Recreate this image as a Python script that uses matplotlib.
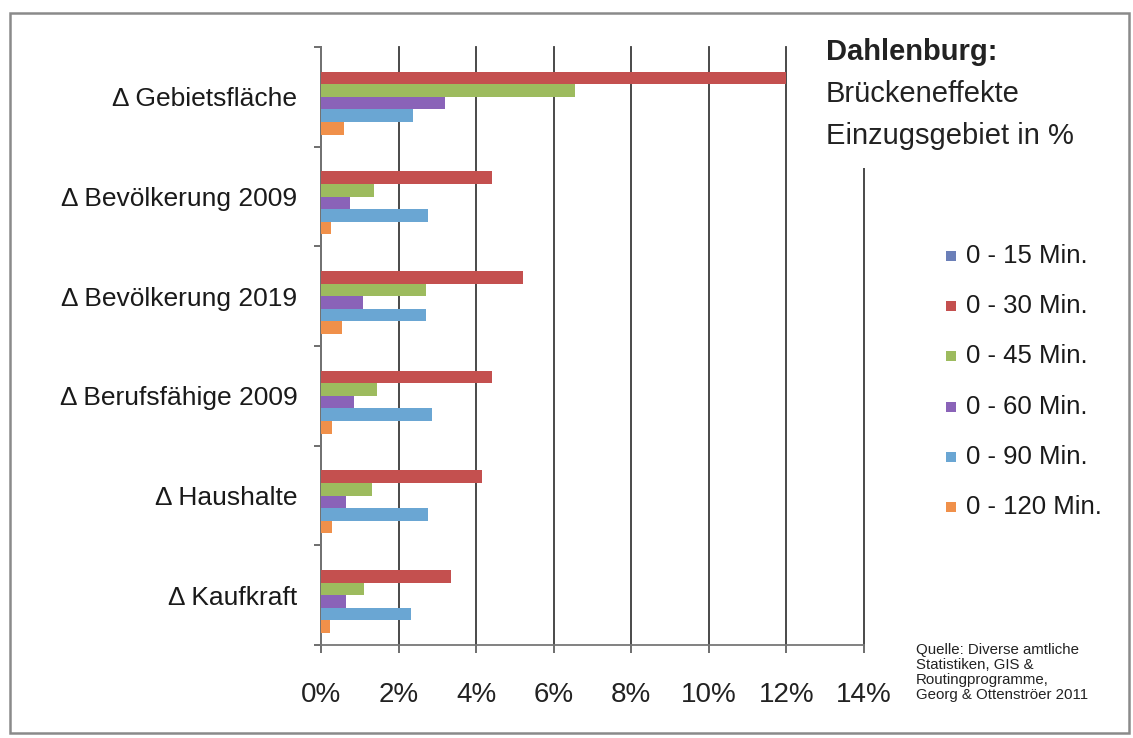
import matplotlib
matplotlib.use("Agg")
import matplotlib.pyplot as plt
from matplotlib.patches import Rectangle
from matplotlib.ticker import FuncFormatter
import numpy as np

plt.rcParams['font.family'] = ['Liberation Sans', 'DejaVu Sans']

categories = ["\u0394 Gebietsfläche", "\u0394 Bevölkerung 2009", "\u0394 Bevölkerung 2019",
              "\u0394 Berufsfähige 2009", "\u0394 Haushalte", "\u0394 Kaufkraft"]
series_names = ["0 - 15 Min.", "0 - 30 Min.", "0 - 45 Min.", "0 - 60 Min.", "0 - 90 Min.", "0 - 120 Min."]

# percentage changes per catchment area
min_15 = [0.0, 0.0, 0.0, 0.0, 0.0, 0.0]
min_30 = [12.0, 4.4, 5.2, 4.4, 4.15, 3.35]
min_45 = [6.55, 1.37, 2.7, 1.45, 1.32, 1.12]
min_60 = [3.2, 0.74, 1.08, 0.84, 0.64, 0.64]
min_90 = [2.37, 2.76, 2.71, 2.85, 2.77, 2.32]
min_120 = [0.6, 0.27, 0.55, 0.29, 0.28, 0.24]

series_values = [min_15, min_30, min_45, min_60, min_90, min_120]
colors = ["#6B7FB8", "#C4504F", "#9DBB5E", "#8A63B8", "#6AA6D3", "#F0904A"]

W, H = 1133, 738
fig = plt.figure(figsize=(W / 100, H / 100), dpi=100)
fig.patch.set_facecolor("white")

ax = fig.add_axes([321 / W, 1 - 645 / H, (864 - 321) / W, (645 - 47) / H])

bar_h = 0.1264
y = np.arange(len(categories))
for i, (vals, col, name) in enumerate(zip(series_values, colors, series_names)):
    ax.barh(y + (i - 2.5) * bar_h, vals, height=bar_h, color=col, label=name,
            edgecolor="none", zorder=3)

ax.set_xlim(0, 14)
ax.set_ylim(len(categories) - 0.5, -0.5)
ax.set_xticks(np.arange(0, 15, 2))
ax.xaxis.set_major_formatter(FuncFormatter(lambda v, p: f"{v:.0f}%"))
ax.tick_params(axis="x", labelsize=20, colors="#555555", length=6, width=1.2,
               pad=21, labelcolor="#222222")
ax.set_yticks(y)
ax.set_yticklabels(categories)
ax.set_yticks(np.arange(len(categories) + 1) - 0.5, minor=True)
ax.tick_params(axis="y", which="major", length=0, labelsize=19, pad=17,
               labelcolor="#1a1a1a")
ax.tick_params(axis="y", which="minor", length=5, width=1.2, colors="#555555")

ax.grid(axis="x", color="#3a3a3a", linewidth=1.3, zorder=1)
for gl in ax.get_xgridlines():
    gl.set_clip_on(False)
ax.set_axisbelow(True)
for s in ["top", "right"]:
    ax.spines[s].set_visible(False)
ax.spines["left"].set_color("#777777")
ax.spines["bottom"].set_color("#777777")
ax.spines["left"].set_linewidth(1.3)
ax.spines["bottom"].set_linewidth(1.3)

# white panel behind the title block
fig.patches.append(Rectangle((815 / W, 1 - 168 / H), 308 / W, 140 / H,
                             transform=fig.transFigure, facecolor="white",
                             edgecolor="none", zorder=2))
fig.text(826 / W, 1 - 52 / H, "Dahlenburg:", fontsize=21, fontweight="bold",
         color="#222222", va="center", ha="left", zorder=4)
fig.text(826 / W, 1 - 94 / H, "Brückeneffekte", fontsize=21,
         color="#222222", va="center", ha="left", zorder=4)
fig.text(826 / W, 1 - 136 / H, "Einzugsgebiet in %", fontsize=21,
         color="#222222", va="center", ha="left", zorder=4)

# legend
for i, (name, col) in enumerate(zip(series_names, colors)):
    yy = 1 - (256 + i * 50.2) / H
    fig.patches.append(Rectangle((946 / W, yy - 5 / H), 10 / W, 10 / H,
                                 transform=fig.transFigure, facecolor=col,
                                 edgecolor="none", zorder=4))
    fig.text(966 / W, yy, name, fontsize=18.5, color="#1a1a1a",
             va="center", ha="left", zorder=4)

fig.text(916 / W, 1 - 643 / H,
         "Quelle: Diverse amtliche\nStatistiken, GIS &\nRoutingprogramme,\nGeorg & Ottenströer 2011",
         fontsize=10.8, color="#222222", va="top", ha="left", linespacing=1.08)

# outer frame
fig.patches.append(Rectangle((10 / W, 1 - 733 / H), 1119 / W, 720 / H,
                             transform=fig.transFigure, facecolor="none",
                             edgecolor="#8a8a8a", linewidth=1.8, zorder=5))

fig.savefig("out.png", dpi=100, facecolor="white")
